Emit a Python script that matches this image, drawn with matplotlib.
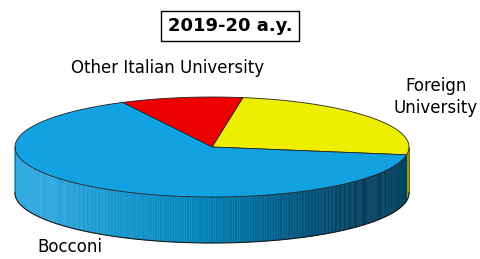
import numpy as np
import matplotlib
matplotlib.use("Agg")
import matplotlib.pyplot as plt
from matplotlib.patches import Polygon
from matplotlib.collections import PolyCollection

# data (counterclockwise from the right-hand edge)
labels = ["Foreign\nUniversity", "Other Italian University", "Bocconi"]
shares = [25, 10, 65]
top_colors = ["#eeee00", "#ee0000", "#12a2e2"]
title = "2019-20 a.y."

W, H = 481, 259
fig = plt.figure(figsize=(W / 100, H / 100), dpi=100)
ax = fig.add_axes([0, 0, 1, 1])
ax.set_xlim(0, W)
ax.set_ylim(H, 0)
ax.axis("off")

cx, cy, a, b, depth = 212, 147, 197, 50, 46
start = -9.0

def pt(t):
    r = np.radians(t)
    return cx + a * np.cos(r), cy - b * np.sin(r)

# wedge bounds
bounds = start + 360 * np.concatenate([[0], np.cumsum(shares)]) / sum(shares)

# blue side gradient (by x position)
stops_f = [0.0, 0.45, 0.75, 0.9, 1.0]
stops_c = np.array([[50, 172, 228], [0, 135, 190], [0, 80, 120],
                    [0, 58, 88], [0, 70, 100]]) / 255

def blue_side(x):
    f = (x - (cx - a)) / (2 * a)
    return [np.interp(f, stops_f, stops_c[:, k]) for k in range(3)]

side_cols = [lambda x: (0.62, 0.60, 0.0), None, blue_side]

polys, cols = [], []
for i in range(len(shares)):
    t0, t1 = bounds[i], bounds[i + 1]
    ts = np.arange(t0, t1 + 0.5, 0.5)
    ts[-1] = t1
    for u, v in zip(ts[:-1], ts[1:]):
        m = ((u + v) / 2) % 360
        if not (180 <= m <= 360):
            continue
        x0, y0 = pt(u)
        x1, y1 = pt(v)
        polys.append([(x0, y0), (x1, y1), (x1, y1 + depth), (x0, y0 + depth)])
        cols.append(side_cols[i]((x0 + x1) / 2))
ax.add_collection(PolyCollection(polys, facecolors=cols, edgecolors=cols, linewidths=0.3))

# side outline
tb = np.linspace(180, 360, 200)
xb, yb = pt(tb)
ax.plot(xb, yb + depth, color="#1a1a1a", lw=0.8)
for t in (180, 360):
    x, y = pt(t)
    ax.plot([x, x], [y, y + depth], color="#333333", lw=0.4)

# top wedges
for i in range(len(shares)):
    ts = np.linspace(bounds[i], bounds[i + 1], 120)
    xs, ys = pt(ts)
    verts = [(cx, cy)] + list(zip(xs, ys))
    ax.add_patch(Polygon(verts, closed=True, facecolor=top_colors[i],
                         edgecolor="#222222", lw=0.6))

# labels
fs = 12
ax.text(436, 97, labels[0], ha="center", va="center", fontsize=fs, linespacing=1.25)
ax.text(168, 68, labels[1], ha="center", va="center", fontsize=fs)
ax.text(70, 247, labels[2], ha="center", va="center", fontsize=fs)

ax.text(230, 26, title, ha="center", va="center", fontsize=13, fontweight="bold",
        bbox=dict(boxstyle="square,pad=0.35", facecolor="white", edgecolor="black", lw=1))

fig.savefig("out.png", dpi=100)
